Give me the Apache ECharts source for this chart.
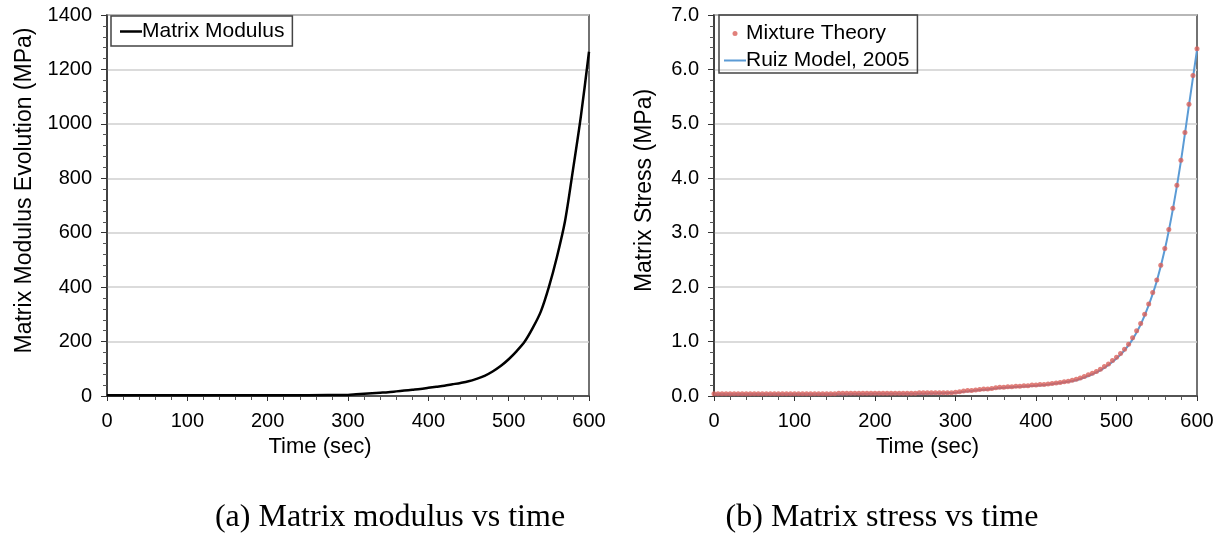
<!DOCTYPE html>
<html><head><meta charset="utf-8">
<script src="https://cdn.jsdelivr.net/npm/echarts@6.0.0/dist/echarts.min.js"></script>
<style>html,body{margin:0;padding:0;background:#fff}#c{width:1221px;height:536px}</style>
</head><body><div id="c"></div>
<script>
// ---- Data ----
const modTime  = [0, 50, 100, 150, 200, 250, 300, 310, 320, 330, 340, 350, 360, 370, 380, 390, 400, 410, 420, 430, 440, 450, 460, 470, 480, 490, 500, 510, 520, 530, 540, 550, 560, 570, 580, 590, 600];
const modValue = [3, 3, 3, 3, 3, 3, 4, 6, 8, 10, 12, 14, 17, 20, 23, 26, 30, 34, 38, 43, 48, 54, 63, 74, 90, 110, 135, 165, 200, 250, 310, 400, 510, 640, 830, 1030, 1265];

const mixTime = [0, 5, 10, 15, 20, 25, 30, 35, 40, 45, 50, 55, 60, 65, 70, 75, 80, 85, 90, 95,
  100, 105, 110, 115, 120, 125, 130, 135, 140, 145, 150, 155, 160, 165, 170, 175, 180, 185, 190, 195,
  200, 205, 210, 215, 220, 225, 230, 235, 240, 245, 250, 255, 260, 265, 270, 275, 280, 285, 290, 295,
  300, 305, 310, 315, 320, 325, 330, 335, 340, 345, 350, 355, 360, 365, 370, 375, 380, 385, 390, 395,
  400, 405, 410, 415, 420, 425, 430, 435, 440, 445, 450, 455, 460, 465, 470, 475, 480, 485, 490, 495,
  500, 505, 510, 515, 520, 525, 530, 535, 540, 545, 550, 555, 560, 565, 570, 575, 580, 585, 590, 595, 600];
const mixValue = [0.04, 0.04, 0.04, 0.04, 0.04, 0.04, 0.04, 0.04, 0.04, 0.04, 0.04, 0.04, 0.04, 0.04, 0.04, 0.04, 0.04, 0.04, 0.04, 0.04,
  0.04, 0.04, 0.04, 0.04, 0.04, 0.04, 0.04, 0.04, 0.04, 0.04, 0.04, 0.05, 0.05, 0.05, 0.05, 0.05, 0.05, 0.05, 0.05, 0.05,
  0.05, 0.05, 0.05, 0.05, 0.05, 0.05, 0.05, 0.05, 0.05, 0.05, 0.05, 0.06, 0.06, 0.06, 0.06, 0.06, 0.06, 0.06, 0.06, 0.06,
  0.07, 0.08, 0.09, 0.10, 0.10, 0.11, 0.12, 0.13, 0.13, 0.14, 0.15, 0.16, 0.16, 0.17, 0.17, 0.18, 0.18, 0.19, 0.19, 0.20,
  0.20, 0.21, 0.21, 0.22, 0.23, 0.24, 0.25, 0.26, 0.27, 0.29, 0.31, 0.33, 0.36, 0.39, 0.42, 0.45, 0.49, 0.54, 0.59, 0.65,
  0.71, 0.78, 0.86, 0.95, 1.07, 1.20, 1.33, 1.50, 1.69, 1.90, 2.13, 2.40, 2.71, 3.06, 3.45, 3.87, 4.33, 4.84, 5.36, 5.89, 6.38];

const ruizTime  = [0, 50, 100, 150, 200, 250, 300, 310, 320, 330, 340, 350, 360, 370, 380, 390, 400, 410, 420, 430, 440, 450, 460, 470, 480, 490, 500, 510, 520, 530, 540, 550, 560, 570, 580, 590, 600];
const ruizValue = [0.03, 0.03, 0.03, 0.03, 0.04, 0.04, 0.06, 0.08, 0.09, 0.11, 0.12, 0.14, 0.15, 0.16, 0.17, 0.18, 0.19, 0.20, 0.22, 0.24, 0.26, 0.29, 0.34, 0.40, 0.47, 0.57, 0.69, 0.84, 1.04, 1.31, 1.67, 2.11, 2.69, 3.43, 4.31, 5.34, 6.36];

const xTicks = [0, 600, 100];          // min, max, interval (sec)
const yLeftTicks = [0, 1400, 200];     // MPa
const yRightTicks = [0, 7, 1];         // MPa

const captionA = '(a) Matrix modulus vs time';
const captionB = '(b) Matrix stress vs time';

// ---- Chart ----
const FONT = '"Liberation Sans", Arial, Helvetica, sans-serif';
const pair = (xs, ys) => xs.map((x, i) => [x, ys[i]]);
const LINE_ICON = 'path://M0,0H22V2.5H0Z';

function xAxisCfg(gi) {
  return {
    type: 'value', gridIndex: gi, min: xTicks[0], max: xTicks[1], interval: xTicks[2],
    name: 'Time (sec)', nameLocation: 'middle', nameGap: 40,
    nameTextStyle: { fontSize: 22, color: '#000', fontFamily: FONT, padding: [0, 56, 0, 0] },
    axisLine: { show: true, onZero: false, lineStyle: { color: '#333', width: 1.5 } },
    axisTick: { show: true, length: 5, lineStyle: { color: '#333', width: 1 } },
    minorTick: { show: true, splitNumber: 5, length: 4, lineStyle: { color: '#555', width: 1 } },
    axisLabel: { fontSize: 20, color: '#000', margin: 15, fontFamily: FONT },
    splitLine: { show: false }
  };
}
function yAxisCfg(gi, t, name, gap, fmt) {
  return {
    type: 'value', gridIndex: gi, min: t[0], max: t[1], interval: t[2],
    name: name, nameLocation: 'middle', nameGap: gap,
    nameTextStyle: { fontSize: 23, color: '#000', fontFamily: FONT, padding: [0, 0, 0, 30] },
    axisLine: { show: true, lineStyle: { color: '#333', width: 1.5 } },
    axisTick: { show: true, length: 6, lineStyle: { color: '#333', width: 1 } },
    minorTick: { show: true, splitNumber: 5, length: 4, lineStyle: { color: '#555', width: 1 } },
    axisLabel: { fontSize: 20, color: '#000', margin: 15, fontFamily: FONT, formatter: fmt },
    splitLine: { show: true, lineStyle: { color: '#cfcfcf', width: 1.5 } }
  };
}

const chart = echarts.init(document.getElementById('c'), null, { renderer: 'canvas' });
chart.setOption({
  backgroundColor: '#fff',
  animation: false,
  textStyle: { fontFamily: FONT },
  grid: [
    { left: 107, right: 632, top: 15, bottom: 140, show: true, borderColor: '#444', borderWidth: 1.5, backgroundColor: 'transparent' },
    { left: 714, right: 24, top: 15, bottom: 140, show: true, borderColor: '#444', borderWidth: 1.5, backgroundColor: 'transparent' }
  ],
  xAxis: [xAxisCfg(0), xAxisCfg(1)],
  yAxis: [
    yAxisCfg(0, yLeftTicks, 'Matrix Modulus Evolution (MPa)', 71, v => String(v)),
    yAxisCfg(1, yRightTicks, 'Matrix Stress (MPa)', 58, v => v.toFixed(1))
  ],
  legend: [
    {
      data: [{ name: 'Matrix Modulus', icon: LINE_ICON }], left: 111, top: 16, itemWidth: 22, itemHeight: 10,
      borderColor: '#444', borderWidth: 1.5, padding: [5, 8, 4, 9], symbolKeepAspect: true,
      textStyle: { fontSize: 21, color: '#000', fontFamily: FONT, padding: [0, 0, 0, -5] }
    },
    {
      data: [{ name: 'Mixture Theory', icon: 'circle' }, { name: 'Ruiz Model, 2005', icon: 'path://M0,0H22V2H0Z' }],
      orient: 'vertical', left: 719, top: 15,
      itemWidth: 22, itemHeight: 5, itemGap: 6, symbolKeepAspect: true,
      borderColor: '#444', borderWidth: 1.5, padding: [8, 8, 2, 5],
      textStyle: { fontSize: 21, color: '#000', fontFamily: FONT, padding: [0, 0, 0, -5] }
    }
  ],
  series: [
    {
      name: 'Matrix Modulus', type: 'line', xAxisIndex: 0, yAxisIndex: 0,
      data: pair(modTime, modValue), smooth: 0.3, symbol: 'none',
      lineStyle: { color: '#000', width: 2.5 }, itemStyle: { color: '#000' }
    },
    {
      name: 'Ruiz Model, 2005', type: 'line', xAxisIndex: 1, yAxisIndex: 1,
      data: pair(ruizTime, ruizValue), smooth: 0.3, symbol: 'none',
      lineStyle: { color: '#5b9bd5', width: 2 }, itemStyle: { color: '#5b9bd5' }
    },
    {
      name: 'Mixture Theory', type: 'scatter', xAxisIndex: 1, yAxisIndex: 1,
      data: pair(mixTime, mixValue), symbol: 'circle', symbolSize: 5, z: 5,
      itemStyle: { color: '#d9605a' }
    }
  ],
  graphic: [
    { type: 'text', x: 390, y: 518, style: { text: captionA, font: '32px "Liberation Serif", "Times New Roman", serif', fill: '#000', align: 'center', verticalAlign: 'middle', textAlign: 'center', textVerticalAlign: 'middle' } },
    { type: 'text', x: 882, y: 518, style: { text: captionB, font: '32px "Liberation Serif", "Times New Roman", serif', fill: '#000', align: 'center', verticalAlign: 'middle', textAlign: 'center', textVerticalAlign: 'middle' } }
  ]
});
</script>
</body></html>
